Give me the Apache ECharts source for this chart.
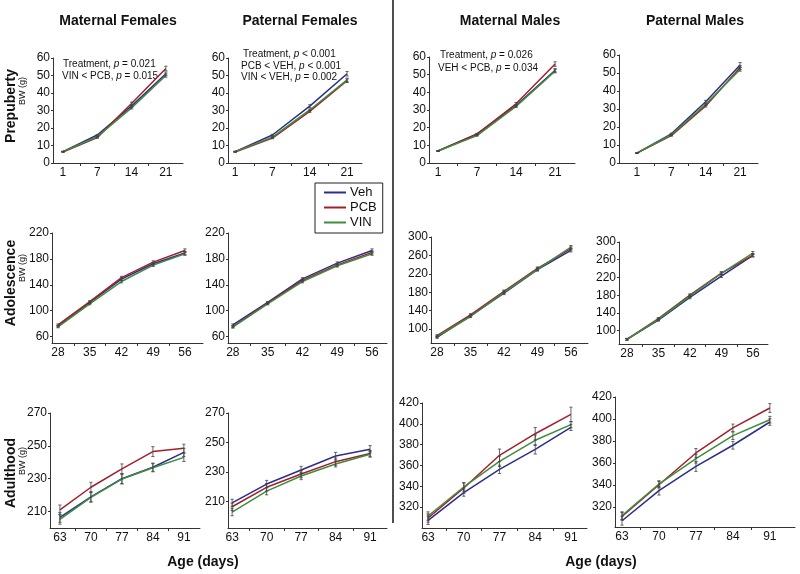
<!DOCTYPE html>
<html><head><meta charset="utf-8">
<script src="https://cdn.jsdelivr.net/npm/echarts@6/dist/echarts.min.js"></script>
<style>html,body{margin:0;padding:0;background:#fff}#c{width:800px;height:574px}</style>
</head><body><div id="c"></div>
<script>
// ---------- categories & labels ----------
const seriesNames = ['Veh', 'PCB', 'VIN'];
const colTitles = ['Maternal Females', 'Paternal Females', 'Maternal Males', 'Paternal Males'];
const rowTitles = ['Prepuberty', 'Adolescence', 'Adulthood'];
const xTitle = 'Age (days)';
const yTitle = 'BW (g)';
const preDays = ['1', '7', '14', '21'];
const adolDays = ['28', '35', '42', '49', '56'];
const adultDays = ['63', '70', '77', '84', '91'];

// ---------- y tick labels ----------
const preTicks = [0, 10, 20, 30, 40, 50, 60];
const adolTicksF = [60, 100, 140, 180, 220];
const adolTicksM = [100, 140, 180, 220, 260, 300];
const adultTicksF = [210, 230, 250, 270];
const adultTicksM = [320, 340, 360, 380, 400, 420];

// ---------- values (body weight, g) ----------
// Prepuberty
const mfPreVeh = [6.5, 16.0, 32.5, 51.0];
const mfPrePCB = [6.3, 14.5, 34.0, 54.0];
const mfPreVIN = [6.5, 15.0, 31.5, 50.0];
const pfPreVeh = [6.5, 16.0, 32.5, 51.0];
const pfPrePCB = [6.3, 14.2, 29.5, 47.0];
const pfPreVIN = [6.5, 14.8, 30.3, 47.5];
const mmPreVeh = [6.8, 16.5, 32.5, 52.5];
const mmPrePCB = [6.8, 16.3, 33.5, 56.0];
const mmPreVIN = [6.8, 15.5, 32.0, 52.0];
const pmPreVeh = [5.5, 16.2, 34.0, 54.5];
const pmPrePCB = [5.5, 15.2, 31.7, 53.0];
const pmPreVIN = [5.5, 15.7, 32.6, 52.0];
// Adolescence
const mfAdolVeh = [76, 112.6, 148.7, 172.4, 189];
const mfAdolPCB = [78, 114, 151, 175, 193];
const mfAdolVIN = [75, 110.5, 145, 170.3, 188];
const pfAdolVeh = [78, 112.6, 149, 173.4, 193];
const pfAdolPCB = [75.5, 111.5, 146.6, 170.8, 190];
const pfAdolVIN = [74.4, 110.5, 145, 169.3, 188];
const mmAdolVeh = [82, 129, 178, 229, 271];
const mmAdolPCB = [86, 131, 182, 232, 275];
const mmAdolVIN = [84, 127.5, 180, 230, 278];
const pmAdolVeh = [80.5, 124, 175, 223, 270];
const pmAdolPCB = [80.5, 127, 180, 230, 270];
const pmAdolVIN = [80.5, 125.5, 178, 229, 275];
// Adulthood
const mfAdultVeh = [206.5, 219, 230, 237, 246];
const mfAdultPCB = [211, 224.8, 236, 246.5, 248.5];
const mfAdultVIN = [205.3, 218.7, 229.8, 236.7, 243];
const pfAdultVeh = [209, 221.8, 231.3, 240.8, 245.4];
const pfAdultPCB = [206.4, 219.6, 228.6, 237, 242.6];
const pfAdultVIN = [202.8, 217, 227.3, 235.4, 242];
const mmAdultVeh = [307.4, 334, 356.3, 375.5, 396.6];
const mmAdultPCB = [309.6, 338.4, 369.8, 390.5, 409];
const mmAdultVIN = [311.5, 339.4, 364, 384.2, 399.2];
const pmAdultVeh = [307.7, 335, 357, 376.2, 397.3];
const pmAdultPCB = [311.7, 340.4, 369.2, 391.9, 410];
const pmAdultVIN = [312.3, 341, 364, 384.9, 399.4];

// ---------- error bars (SEM, g) ----------
const preErrA = [0.2, 0.3, 0.6, 1.0];
const preErrB = [0.2, 0.4, 0.8, 1.3];
const adolErrF = [1.5, 1.5, 2, 2, 2.5];
const adolErrM = [2, 2.5, 3, 3, 3.5];
const mfAdultErrVeh = [3, 3, 3, 2.5, 2.5];
const mfAdultErrPCB = [3, 3, 3, 3, 2.5];
const mfAdultErrVIN = [3, 3, 3, 2.5, 2.5];
const pfAdultErrVeh = [2.5, 2.5, 2.5, 2.5, 2.5];
const pfAdultErrPCB = [2.5, 2.5, 2.5, 2.5, 2];
const pfAdultErrVIN = [2.5, 2.5, 2.5, 2, 2];
const mmAdultErrVeh = [4, 3.5, 4, 4.5, 3];
const mmAdultErrPCB = [4, 5, 6, 6, 7];
const mmAdultErrVIN = [4, 4, 5, 5, 3];
const pmAdultErrVeh = [4, 4, 4.5, 3.5, 3];
const pmAdultErrPCB = [3.5, 3, 4, 3.5, 4];
const pmAdultErrVIN = [3.5, 3, 4, 3.5, 3];

// ---------- styling / layout ----------
const colors = ['#2c2d8c', '#a31f2c', '#3e8d3b'];
const FONT = '"Liberation Sans", Arial, Helvetica, sans-serif';
const panels = [
  {g: [53, 58, 130, 105], xr: [-0.29, 3.50], yr: [0, 60], cats: preDays, yt: preTicks, v: [mfPreVeh, mfPrePCB, mfPreVIN], e: [preErrA, preErrB, preErrA]},
  {g: [228, 58, 134, 105], xr: [-0.19, 3.40], yr: [0, 60], cats: preDays, yt: preTicks, v: [pfPreVeh, pfPrePCB, pfPreVIN], e: [preErrB, preErrA, preErrA]},
  {g: [429, 57, 146, 106], xr: [-0.23, 3.51], yr: [0, 60], cats: preDays, yt: preTicks, v: [mmPreVeh, mmPrePCB, mmPreVIN], e: [preErrA, preErrB, preErrA]},
  {g: [619, 55, 139, 108], xr: [-0.52, 3.52], yr: [0, 60], cats: preDays, yt: preTicks, v: [pmPreVeh, pmPrePCB, pmPreVIN], e: [preErrB, preErrA, preErrA]},
  {g: [52, 233, 151, 110], xr: [-0.19, 4.57], yr: [50, 220], cats: adolDays, yt: adolTicksF, v: [mfAdolVeh, mfAdolPCB, mfAdolVIN], e: [adolErrF, adolErrF, adolErrF]},
  {g: [228, 233, 159, 110], xr: [-0.14, 4.43], yr: [50, 220], cats: adolDays, yt: adolTicksF, v: [pfAdolVeh, pfAdolPCB, pfAdolVIN], e: [adolErrF, adolErrF, adolErrF]},
  {g: [431, 237, 157, 106], xr: [-0.18, 4.51], yr: [70, 300], cats: adolDays, yt: adolTicksM, v: [mmAdolVeh, mmAdolPCB, mmAdolVIN], e: [adolErrM, adolErrM, adolErrM]},
  {g: [619, 242, 149, 102], xr: [-0.25, 4.48], yr: [70, 300], cats: adolDays, yt: adolTicksM, v: [pmAdolVeh, pmAdolPCB, pmAdolVIN], e: [adolErrM, adolErrM, adolErrM]},
  {g: [50, 413, 150, 115], xr: [-0.32, 4.52], yr: [200, 270], cats: adultDays, yt: adultTicksF, v: [mfAdultVeh, mfAdultPCB, mfAdultVIN], e: [mfAdultErrVeh, mfAdultErrPCB, mfAdultErrVIN]},
  {g: [228, 413, 159, 115], xr: [-0.12, 4.49], yr: [192, 270], cats: adultDays, yt: adultTicksF, v: [pfAdultVeh, pfAdultPCB, pfAdultVIN], e: [pfAdultErrVeh, pfAdultErrPCB, pfAdultErrVIN]},
  {g: [422, 403, 165, 125], xr: [-0.17, 4.45], yr: [300, 420], cats: adultDays, yt: adultTicksM, v: [mmAdultVeh, mmAdultPCB, mmAdultVIN], e: [mmAdultErrVeh, mmAdultErrPCB, mmAdultErrVIN]},
  {g: [615, 397, 180, 130], xr: [-0.19, 4.68], yr: [302, 420], cats: adultDays, yt: adultTicksM, v: [pmAdultVeh, pmAdultPCB, pmAdultVIN], e: [pmAdultErrVeh, pmAdultErrPCB, pmAdultErrVIN]}
];

const grids = [], xAxes = [], yAxes = [], series = [];
panels.forEach((p, k) => {
  grids.push({left: p.g[0], top: p.g[1], width: p.g[2], height: p.g[3], outerBoundsMode: 'none', containLabel: false});
  const mids = [];
  for (let i = 0; i < p.cats.length - 1; i++) mids.push(i + 0.5);
  xAxes.push({
    type: 'value', gridIndex: k, min: p.xr[0], max: p.xr[1],
    splitLine: {show: false},
    axisLine: {onZero: false, lineStyle: {color: '#333', width: 1}},
    axisTick: {show: true, length: 3, customValues: mids, lineStyle: {color: '#333'}},
    axisLabel: {customValues: p.cats.map((c, i) => i), formatter: v => p.cats[Math.round(v)], margin: 4,
      color: '#111', fontSize: 12, fontFamily: FONT}
  });
  yAxes.push({
    type: 'value', gridIndex: k, min: p.yr[0], max: p.yr[1],
    splitLine: {show: false},
    axisLine: {show: true, onZero: false, lineStyle: {color: '#333', width: 1}},
    axisTick: {show: true, length: 2, customValues: p.yt, lineStyle: {color: '#333'}},
    axisLabel: {customValues: p.yt, margin: 3, color: '#111', fontSize: 12, fontFamily: FONT}
  });
  p.v.forEach((vals, s) => {
    series.push({
      name: seriesNames[s], type: 'line', xAxisIndex: k, yAxisIndex: k,
      data: vals.map((y, i) => [i, y]), showSymbol: false, symbol: 'none',
      lineStyle: {color: colors[s], width: 1.5}, itemStyle: {color: colors[s]},
      animation: false, z: 2 + s
    });
  });
  p.v.forEach((vals, s) => {
    series.push({
      name: 'err' + s, type: 'custom', xAxisIndex: k, yAxisIndex: k,
      data: vals.map((y, i) => [i, y, p.e[s][i]]),
      encode: {x: 0, y: 1}, animation: false, z: 6, silent: true,
      renderItem: (params, api) => {
        const x = api.value(0), y = api.value(1), e = api.value(2);
        const t = api.coord([x, y + e]), b = api.coord([x, y - e]);
        const st = {stroke: '#444', lineWidth: 0.8};
        return {type: 'group', children: [
          {type: 'line', shape: {x1: t[0], y1: t[1], x2: b[0], y2: b[1]}, style: st},
          {type: 'line', shape: {x1: t[0] - 1.6, y1: t[1], x2: t[0] + 1.6, y2: t[1]}, style: st},
          {type: 'line', shape: {x1: b[0] - 1.6, y1: b[1], x2: b[0] + 1.6, y2: b[1]}, style: st}
        ]};
      }
    });
  });
});

const boldText = (txt, x, y, size, rot) => ({
  type: 'text', x: x, y: y, rotation: rot || 0, silent: true,
  style: {text: txt, fontFamily: FONT, fontWeight: 'bold', fontSize: size, fill: '#111', align: 'center', verticalAlign: 'middle'}
});
const smallText = (txt, x, y, size, rot, align) => ({
  type: 'text', x: x, y: y, rotation: rot || 0, silent: true,
  style: {text: txt, fontFamily: FONT, fontSize: size, fill: '#111', align: align || 'center', verticalAlign: 'middle',
    rich: {i: {fontStyle: 'italic', fontFamily: FONT, fontSize: size, fill: '#111'}}}
});

const graphic = [
  boldText(colTitles[0], 118, 21, 14),
  boldText(colTitles[1], 300, 21, 14),
  boldText(colTitles[2], 510, 21, 14),
  boldText(colTitles[3], 695, 21, 14),
  boldText(rowTitles[0], 11, 106, 14, Math.PI / 2),
  boldText(rowTitles[1], 11, 283, 14, Math.PI / 2),
  boldText(rowTitles[2], 11, 473, 14, Math.PI / 2),
  smallText(yTitle, 23, 91, 9, Math.PI / 2),
  smallText(yTitle, 23, 268, 9, Math.PI / 2),
  smallText(yTitle, 23, 461, 9, Math.PI / 2),
  boldText(xTitle, 203, 562, 14),
  boldText(xTitle, 601, 562, 14),
  smallText('Treatment, {i|p} = 0.021', 63, 64, 10, 0, 'left'),
  smallText('VIN < PCB, {i|p} = 0.015', 62, 76, 10, 0, 'left'),
  smallText('Treatment, {i|p} < 0.001', 243, 54, 10, 0, 'left'),
  smallText('PCB < VEH, {i|p} < 0.001', 241, 66, 10, 0, 'left'),
  smallText('VIN < VEH, {i|p} = 0.002', 241, 77, 10, 0, 'left'),
  smallText('Treatment, {i|p} = 0.026', 440, 55, 10, 0, 'left'),
  smallText('VEH < PCB, {i|p} = 0.034', 438, 68, 10, 0, 'left'),
  {type: 'line', silent: true, shape: {x1: 393, y1: 0, x2: 393, y2: 523}, style: {stroke: '#222', lineWidth: 1.6}}
];

const chart = echarts.init(document.getElementById('c'), null, {renderer: 'canvas'});
chart.setOption({
  backgroundColor: '#fff',
  animation: false,
  textStyle: {fontFamily: FONT},
  legend: {
    data: seriesNames.map((n, i) => ({name: n, itemStyle: {color: colors[i]}})),
    orient: 'vertical', left: 315, top: 183,
    icon: 'rect', itemWidth: 22, itemHeight: 2, itemGap: 2,
    borderColor: '#222', borderWidth: 1, padding: [3, 6, 4, 9],
    textStyle: {fontSize: 13, color: '#111', fontFamily: FONT, lineHeight: 12, padding: [0, 0, 0, -1]},
    selectedMode: false
  },
  grid: grids,
  xAxis: xAxes,
  yAxis: yAxes,
  series: series,
  graphic: graphic
});
</script>
</body></html>
